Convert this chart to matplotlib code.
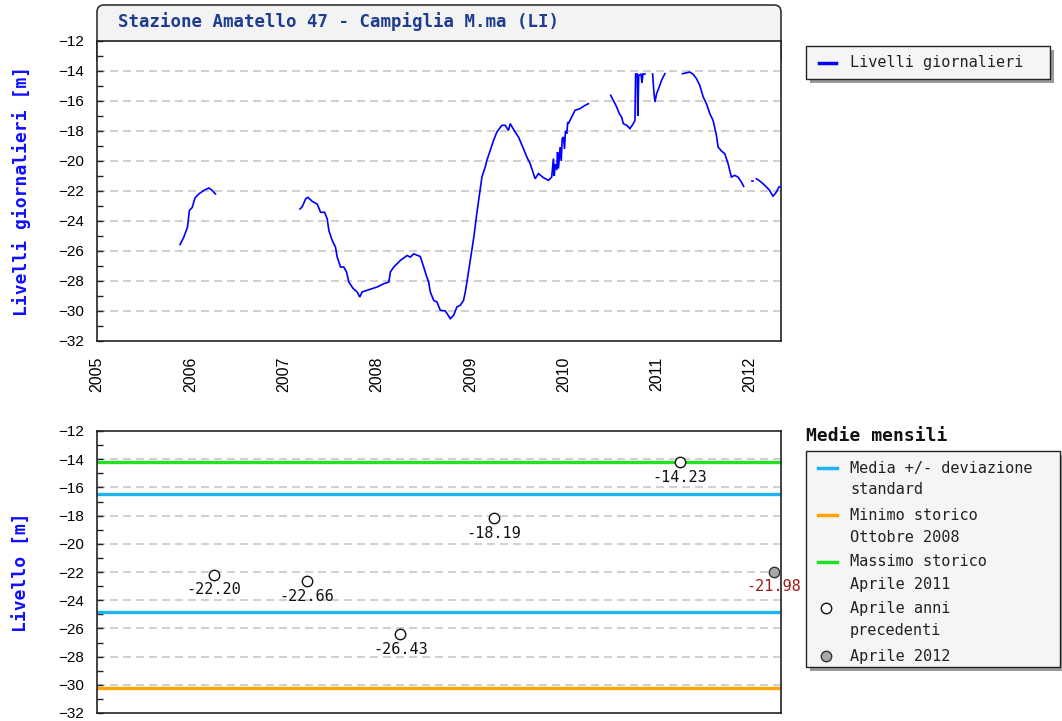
import numpy as np
import matplotlib
matplotlib.use("Agg")
import matplotlib.pyplot as plt
from matplotlib.transforms import Affine2D
from matplotlib.patches import Rectangle, FancyBboxPatch
from matplotlib.lines import Line2D

# ---------------- data ----------------
title = "Stazione Amatello 47 - Campiglia M.ma (LI)"
year_ticks = [2005, 2006, 2007, 2008, 2009, 2010, 2011, 2012]

seg1_years = [2005.89, 2005.93, 2005.97, 2005.99, 2006.02, 2006.05, 2006.09, 2006.15, 2006.20, 2006.23, 2006.27]
seg1_levels = [-25.57, -25.08, -24.40, -23.30, -23.10, -22.47, -22.20, -21.94, -21.80, -21.94, -22.20]

seg2_years = [2007.175, 2007.200, 2007.235, 2007.260, 2007.307, 2007.360, 2007.396, 2007.439, 2007.467,
              2007.485, 2007.521, 2007.556, 2007.574, 2007.610, 2007.645, 2007.674, 2007.699, 2007.745,
              2007.788, 2007.816, 2007.841, 2007.895, 2007.948, 2008.002, 2008.073, 2008.127, 2008.144,
              2008.180, 2008.251, 2008.323, 2008.358, 2008.394, 2008.465, 2008.501, 2008.529, 2008.554,
              2008.572, 2008.608, 2008.643, 2008.679, 2008.733, 2008.786, 2008.822, 2008.857, 2008.893,
              2008.928, 2008.947, 2008.964, 2009.000, 2009.040, 2009.070, 2009.100, 2009.125, 2009.160,
              2009.178, 2009.214, 2009.250, 2009.285, 2009.339, 2009.374, 2009.410, 2009.428, 2009.481,
              2009.517, 2009.570, 2009.606, 2009.642, 2009.695, 2009.731, 2009.784, 2009.838, 2009.873,
              2009.891, 2009.900, 2009.910, 2009.927, 2009.935, 2009.945, 2009.963, 2009.975, 2009.985,
              2009.998, 2010.010, 2010.020, 2010.034, 2010.045, 2010.052, 2010.087, 2010.123, 2010.176,
              2010.230, 2010.265]
seg2_levels = [-23.20, -23.04, -22.53, -22.42, -22.69, -22.87, -23.42, -23.42, -23.86,
               -24.64, -25.30, -25.75, -26.40, -27.07, -27.07, -27.40, -28.07, -28.50,
               -28.73, -29.07, -28.73, -28.62, -28.51, -28.40, -28.18, -28.07, -27.40,
               -27.07, -26.63, -26.30, -26.41, -26.19, -26.37, -27.07, -27.63, -28.07,
               -28.73, -29.29, -29.40, -29.95, -30.00, -30.51, -30.29, -29.73, -29.62,
               -29.29, -28.73, -28.07, -26.63, -25.00, -23.50, -22.18, -21.07, -20.40,
               -19.96, -19.29, -18.62, -18.07, -17.62, -17.62, -17.96, -17.51, -18.07,
               -18.40, -19.18, -19.73, -20.18, -21.18, -20.84, -21.11, -21.29, -21.07,
               -19.84, -21.00, -20.20, -20.60, -19.40, -20.50, -19.07, -20.00, -18.50,
               -18.40, -19.20, -18.00, -18.18, -17.40, -17.51, -17.07, -16.62, -16.51,
               -16.29, -16.18]

seg3_years = [2010.505, 2010.533, 2010.569, 2010.597, 2010.622, 2010.640, 2010.676, 2010.711, 2010.747,
              2010.765, 2010.772, 2010.790, 2010.795, 2010.800, 2010.805, 2010.830, 2010.840, 2010.850, 2010.872]
seg3_levels = [-15.62, -15.96, -16.40, -16.84, -17.07, -17.51, -17.62, -17.84, -17.51,
               -17.29, -14.20, -14.20, -17.00, -16.00, -14.30, -14.20, -14.80, -14.20, -14.20]

seg4_years = [2010.954, 2010.968, 2010.979, 2010.997, 2011.025, 2011.050, 2011.086]
seg4_levels = [-14.20, -15.40, -16.07, -15.51, -15.07, -14.62, -14.18]

seg5_years = [2011.275, 2011.353, 2011.389, 2011.424, 2011.460, 2011.496, 2011.531, 2011.567, 2011.602,
              2011.638, 2011.656, 2011.691, 2011.727, 2011.763, 2011.798, 2011.834, 2011.870, 2011.905, 2011.930]
seg5_levels = [-14.18, -14.07, -14.22, -14.51, -14.96, -15.73, -16.18, -16.84, -17.29,
               -18.29, -19.07, -19.33, -19.51, -20.18, -21.07, -20.96, -21.07, -21.40, -21.69]

seg6_years = [2012.015, 2012.030]
seg6_levels = [-21.33, -21.33]

seg7_years = [2012.066, 2012.102, 2012.137, 2012.173, 2012.209, 2012.244, 2012.280, 2012.308, 2012.326]
seg7_levels = [-21.18, -21.33, -21.51, -21.73, -21.96, -22.36, -22.07, -21.73, -21.70]

april_years = [2006, 2007, 2008, 2009, 2011]
april_levels = [-22.20, -22.66, -26.43, -18.19, -14.23]
current_year = 2012
current_level = -21.98
mean_plus_sd = -16.45
mean_minus_sd = -24.85
hist_min = -30.26
hist_max = -14.23

legend_labels = [["Media +/- deviazione", "standard"], ["Minimo storico", "Ottobre 2008"],
                 ["Massimo storico", "Aprile 2011"], ["Aprile anni", "precedenti"], ["Aprile 2012"]]

# ---------------- styles ----------------
W, H = 1062, 721
BLUE = "#0000ff"
CYAN = "#1eb4f0"
ORANGE = "#ffa500"
GREEN = "#22e022"
GRID = "#c8c8c8"
MONO = "DejaVu Sans Mono"
SANS = "Liberation Sans"

fig = plt.figure(figsize=(W / 100, H / 100), dpi=100)
fig.patch.set_facecolor("white")
pix = Affine2D().scale(1 / W, -1 / H).translate(0, 1) + fig.transFigure

def ax_rect(l, t, r, b):
    return [l / W, 1 - b / H, (r - l) / W, (b - t) / H]

ax1 = fig.add_axes(ax_rect(97, 41, 781, 341))
ax2 = fig.add_axes(ax_rect(97, 431, 781, 713))

for ax in (ax1, ax2):
    ax.set_xlim(2005.0, 2012.33)
    ax.set_ylim(-32, -12)
    ax.set_yticks(np.arange(-32, -11, 2))
    ax.set_yticks(np.arange(-32, -11, 1), minor=True)
    ax.tick_params(axis="y", which="both", direction="in", length=4, width=1, pad=9,
                   labelsize=11, color="#222")
    for lab in ax.get_yticklabels():
        lab.set_fontfamily(SANS)
    for y in range(-30, -12, 2):
        ax.axhline(y, color=GRID, lw=1.2, ls=(0, (4.8, 3.0)), zorder=1)
    for s in ax.spines.values():
        s.set_color("#222")
        s.set_linewidth(1.2)
    ax.set_facecolor("white")

# top axes
ax1.set_xticks(year_ticks)
ax1.set_xticklabels([str(y) for y in year_ticks], rotation=90, fontfamily=SANS, fontsize=11.5)
ax1.tick_params(axis="x", length=0, pad=11)
segs_x = [seg1_years, seg2_years, seg3_years, seg4_years, seg5_years, seg6_years, seg7_years]
segs_y = [seg1_levels, seg2_levels, seg3_levels, seg4_levels, seg5_levels, seg6_levels, seg7_levels]
for sx, sy in zip(segs_x, segs_y):
    ax1.plot(sx, sy, color=BLUE, lw=1.2, zorder=3, solid_joinstyle="miter")
ax1.set_ylabel("Livelli giornalieri [m]", fontfamily=MONO, fontweight="bold", fontsize=13, color="#1010ff")
ax1.yaxis.set_label_coords((31 - 97) / 684, 0.5)

# bottom axes
ax2.set_xticks([])
ax2.axhline(hist_max, color=GREEN, lw=2.4, zorder=2)
ax2.axhline(mean_plus_sd, color=CYAN, lw=2.4, zorder=2)
ax2.axhline(mean_minus_sd, color=CYAN, lw=2.4, zorder=2)
ax2.axhline(hist_min, color=ORANGE, lw=2.4, zorder=2)
px_years = [y + 0.25 for y in april_years]
ax2.plot(px_years, april_levels, ls="none", marker="o", ms=7.5, mfc="white", mec="#111", mew=1.0, zorder=4)
for x, v in zip(px_years, april_levels):
    ax2.annotate(f"{v:.2f}", (x, v), xytext=(0, -15), textcoords="offset pixels",
                 ha="center", va="center", fontfamily=MONO, fontsize=11, color="#111", zorder=5)
ax2.plot([current_year + 0.25], [current_level], ls="none", marker="o", ms=7.5, mfc="#a8a8a8",
         mec="#333", mew=1.0, zorder=4, clip_on=False)
ax2.annotate(f"{current_level:.2f}", (current_year + 0.25, current_level), xytext=(0, -15),
             textcoords="offset pixels", ha="center", va="center", fontfamily=MONO, fontsize=11,
             color="#a01818", zorder=5, annotation_clip=False)
ax2.set_ylabel("Livello [m]", fontfamily=MONO, fontweight="bold", fontsize=13, color="#1010ff")
ax2.yaxis.set_label_coords((31 - 97) / 684, 0.5)

# title box
tb = FancyBboxPatch((97, 5), 684, 60, boxstyle="round,pad=0,rounding_size=7", transform=pix,
                    facecolor="#f3f3f3", edgecolor="#333", lw=1.2, zorder=-1)
fig.patches.append(tb)
fig.text(118, 22, title, transform=pix, ha="left", va="center", fontfamily=MONO, fontweight="bold",
         fontsize=12.5, color="#1f3d8f")

# legend helpers
def legend_box(l, t, r, b):
    sh = Rectangle((l + 4, t + 4), r - l, b - t, transform=pix, facecolor="#9a9a9a", edgecolor="none", zorder=5)
    bx = Rectangle((l, t), r - l, b - t, transform=pix, facecolor="#f5f5f5", edgecolor="#222", lw=1.0, zorder=6)
    fig.patches.extend([sh, bx])

legend_box(806, 46, 1050, 79)
fig.lines.append(Line2D([819, 836], [63, 63], transform=pix, color=BLUE, lw=2.5, zorder=7))
fig.text(850, 63, "Livelli giornalieri", transform=pix, ha="left", va="center", fontfamily=MONO,
         fontsize=11, color="#222", zorder=7)

fig.text(806, 436, "Medie mensili", transform=pix, ha="left", va="center", fontfamily=MONO,
         fontweight="bold", fontsize=13, color="#111")
legend_box(806, 451, 1060, 667)
entry_y = [468, 515, 562, 608, 656]
handles = [("line", CYAN), ("line", ORANGE), ("line", GREEN), ("open", None), ("filled", None)]
for (kind, col), y0, labs in zip(handles, entry_y, legend_labels):
    if kind == "line":
        fig.lines.append(Line2D([818, 837], [y0, y0], transform=pix, color=col, lw=2.5, zorder=7))
    elif kind == "open":
        fig.lines.append(Line2D([826], [y0], transform=pix, ls="none", marker="o", ms=7.5, mfc="white",
                                mec="#111", mew=1.0, zorder=7))
    else:
        fig.lines.append(Line2D([826], [y0], transform=pix, ls="none", marker="o", ms=7.5, mfc="#a8a8a8",
                                mec="#333", mew=1.0, zorder=7))
    for i, lab in enumerate(labs):
        fig.text(850, y0 + 22 * i, lab, transform=pix, ha="left", va="center", fontfamily=MONO,
                 fontsize=11, color="#222", zorder=7)

fig.savefig("out.png", dpi=100, facecolor="white")
